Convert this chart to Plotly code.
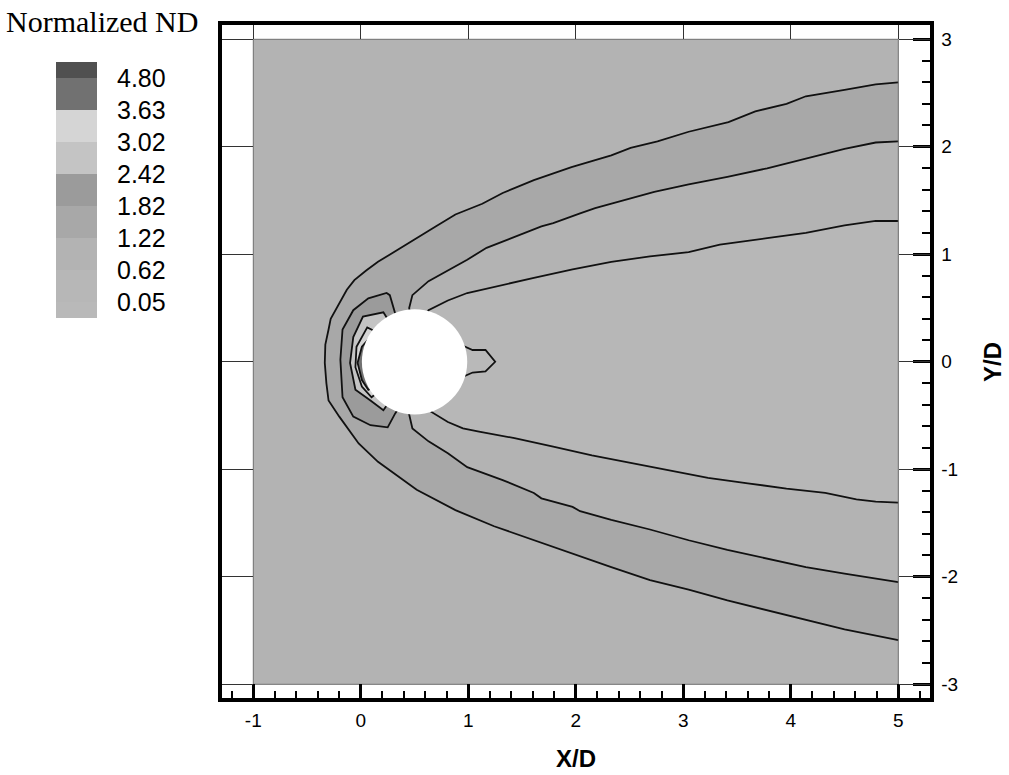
import plotly.graph_objects as go

# ---------------- data ----------------
domain_x = [-1.0, 5.0]
domain_y = [-3.0, 3.0]
cyl_center = (0.5, 0.0)
cyl_radius = 0.49

levels = [0.05, 0.62, 1.22, 1.82, 2.42, 3.02, 3.63, 4.80]
level_colors = ["#b9b9b9", "#b7b7b7", "#b3b3b3", "#a8a8a8", "#9b9b9b",
                "#c4c4c4", "#d5d5d5", "#717171", "#505050"]

x_ticks = [-1, 0, 1, 2, 3, 4, 5]
y_ticks = [-3, -2, -1, 0, 1, 2, 3]

# outer shock contour (top right -> nose -> bottom right)
c1_x = [5.0, 4.79, 4.50, 4.14, 3.96, 3.67, 3.42, 3.05, 2.76, 2.51, 2.33, 1.96, 1.61, 1.32,
        1.13, 0.88, 0.70, 0.52, 0.34, 0.16, 0.05, -0.06, -0.13, -0.20, -0.28, -0.30, -0.33,
        -0.335, -0.32, -0.30, -0.20, -0.02, 0.16, 0.52, 0.88, 1.24, 1.61, 1.97, 2.33, 2.69,
        3.05, 3.41, 3.78, 4.14, 4.50, 5.0]
c1_y = [2.60, 2.58, 2.53, 2.47, 2.40, 2.33, 2.23, 2.14, 2.05, 1.99, 1.92, 1.81, 1.69, 1.57,
        1.47, 1.37, 1.26, 1.15, 1.04, 0.93, 0.85, 0.76, 0.67, 0.54, 0.40, 0.30, 0.16,
        -0.01, -0.20, -0.36, -0.51, -0.76, -0.93, -1.19, -1.38, -1.53, -1.66, -1.78, -1.91,
        -2.03, -2.12, -2.22, -2.31, -2.40, -2.49, -2.59]

# second contour, upper branch (right edge -> cylinder) and lower branch (cylinder -> right edge)
c2_top_x = [5.0, 4.79, 4.50, 4.14, 3.78, 3.41, 3.05, 2.73, 2.51, 2.18, 2.04, 1.79, 1.68, 1.43,
            1.17, 0.99, 0.81, 0.63, 0.48, 0.45, 0.47]
c2_top_y = [2.05, 2.04, 1.98, 1.89, 1.80, 1.72, 1.65, 1.58, 1.52, 1.43, 1.38, 1.29, 1.26, 1.16,
            1.06, 0.95, 0.85, 0.75, 0.62, 0.50, 0.38]
c2_bot_x = [0.47, 0.45, 0.48, 0.63, 0.81, 0.99, 1.32, 1.61, 1.68, 1.97, 2.04, 2.33, 2.69, 3.05,
            3.41, 3.78, 4.14, 4.50, 5.0]
c2_bot_y = [-0.38, -0.49, -0.62, -0.74, -0.85, -0.98, -1.10, -1.22, -1.27, -1.35, -1.39, -1.47,
            -1.56, -1.66, -1.75, -1.83, -1.91, -1.97, -2.05]

# wake contour
c3_top_x = [5.0, 4.79, 4.50, 4.14, 3.78, 3.34, 3.05, 2.69, 2.33, 1.97, 1.61, 1.24, 0.99, 0.81,
            0.63, 0.58]
c3_top_y = [1.31, 1.31, 1.27, 1.20, 1.15, 1.09, 1.02, 0.98, 0.93, 0.86, 0.78, 0.70, 0.64, 0.57,
            0.48, 0.38]
c3_bot_x = [0.58, 0.63, 0.81, 0.95, 1.10, 1.43, 1.79, 2.15, 2.51, 2.87, 3.23, 3.60, 3.96, 4.32,
            4.61, 4.79, 5.0]
c3_bot_y = [-0.36, -0.45, -0.56, -0.62, -0.65, -0.71, -0.79, -0.87, -0.94, -1.01, -1.08, -1.13,
            -1.18, -1.22, -1.28, -1.30, -1.31]

# stagnation region contours (front of cylinder)
c4_x = [0.40, 0.32, 0.27, 0.24, 0.07, -0.07, -0.17, -0.19, -0.17, -0.07, 0.09, 0.25, 0.32, 0.40]
c4_y = [0.36, 0.45, 0.62, 0.64, 0.59, 0.48, 0.30, 0.02, -0.33, -0.51, -0.59, -0.61, -0.48, -0.36]
c5_x = [0.28, 0.21, 0.02, -0.07, -0.10, -0.05, 0.09, 0.21, 0.28]
c5_y = [0.35, 0.46, 0.42, 0.23, -0.01, -0.26, -0.36, -0.45, -0.35]
c6_x = [0.20, 0.06, -0.04, -0.05, 0.01, 0.10, 0.20]
c6_y = [0.25, 0.32, 0.14, -0.05, -0.23, -0.33, -0.25]
c7_x = [0.20, 0.09, 0.01, -0.03, 0.01, 0.07, 0.20]
c7_y = [0.20, 0.23, 0.14, -0.01, -0.17, -0.26, -0.20]

# small wake-tip contour behind cylinder
tip_x = [0.90, 0.95, 1.04, 1.16, 1.25, 1.16, 1.04, 0.95, 0.90]
tip_y = [0.12, 0.15, 0.11, 0.11, 0.00, -0.09, -0.10, -0.14, -0.12]

# ---------------- figure ----------------
W, H = 1009, 775
fig = go.Figure()

def px_x(p):
    return p / W

def px_y(p):
    return 1 - p / H

rect_x = [domain_x[0], domain_x[1], domain_x[1], domain_x[0], domain_x[0]]
rect_y = [domain_y[0], domain_y[0], domain_y[1], domain_y[1], domain_y[0]]

def fill(x, y, color):
    fig.add_trace(go.Scatter(x=x, y=y, mode="lines", fill="toself", fillcolor=color,
                             line=dict(width=0), hoverinfo="skip", showlegend=False))

def line(x, y):
    fig.add_trace(go.Scatter(x=x, y=y, mode="lines", line=dict(color="#111111", width=1.8),
                             hoverinfo="skip", showlegend=False))

fill(rect_x, rect_y, level_colors[2])
fill(c1_x, c1_y, level_colors[3])
fill(c2_top_x + c2_bot_x, c2_top_y + c2_bot_y, level_colors[2])
fill(c3_top_x + c3_bot_x, c3_top_y + c3_bot_y, level_colors[1])
fill(c4_x, c4_y, level_colors[4])
fill(c5_x, c5_y, level_colors[5])
fill(c6_x, c6_y, level_colors[6])
fill(c7_x, c7_y, level_colors[7])
fill(tip_x, tip_y, level_colors[0])

for cx, cy in [(c1_x, c1_y), (c2_top_x, c2_top_y), (c2_bot_x, c2_bot_y),
               (c3_top_x, c3_top_y), (c3_bot_x, c3_bot_y), (c4_x, c4_y),
               (c5_x, c5_y), (c6_x, c6_y), (c7_x, c7_y), (tip_x, tip_y)]:
    line(cx, cy)

# domain border
fig.add_trace(go.Scatter(x=rect_x, y=rect_y, mode="lines",
                         line=dict(color="#6e6e6e", width=1), hoverinfo="skip", showlegend=False))

# cylinder (blanked region)
fig.add_shape(type="circle", xref="x", yref="y",
              x0=cyl_center[0] - cyl_radius, x1=cyl_center[0] + cyl_radius,
              y0=cyl_center[1] - cyl_radius, y1=cyl_center[1] + cyl_radius,
              fillcolor="white", line=dict(width=0), layer="above")

# dummy traces for overlay tick axes
fig.add_trace(go.Scatter(x=[None], y=[None], xaxis="x2", yaxis="y2", showlegend=False))
fig.add_trace(go.Scatter(x=[None], y=[None], xaxis="x", yaxis="y4", showlegend=False))

# legend (level blocks)
n = len(levels)
bases = [-0.5] + list(range(n))
heights = [0.5] + [1] * (n - 1) + [0.5]
fig.add_trace(go.Bar(x=[0] * (n + 1), y=heights, base=bases, width=1,
                     marker=dict(color=level_colors, line=dict(width=0)),
                     xaxis="x3", yaxis="y3", showlegend=False, hoverinfo="skip"))

xr = [(222 - 360.8) / 107.5, (929.5 - 360.8) / 107.5]
yr = [(361.8 - 698) / 107.5, (361.8 - 25) / 107.5]
xdom = [px_x(222), px_x(929.5)]
ydom = [px_y(698), px_y(25)]

tickfont = dict(family="Liberation Sans, Arial, sans-serif", size=19, color="black")

fig.update_layout(
    width=W, height=H, autosize=False,
    margin=dict(l=0, r=0, t=0, b=0),
    paper_bgcolor="white", plot_bgcolor="white",
    barmode="overlay",
    xaxis=dict(domain=xdom, range=xr, anchor="y", side="bottom",
               tickmode="array", tickvals=x_ticks, ticktext=[str(v) for v in x_ticks],
               ticks="inside", ticklen=14, tickwidth=3, tickcolor="black",
               minor=dict(ticks="inside", ticklen=7, tickwidth=1.5, tickcolor="black",
                          dtick=0.2, tick0=0),
               showline=True, linewidth=4, linecolor="black", mirror=True,
               showgrid=False, zeroline=False, tickfont=tickfont, ticklabelstandoff=2),
    xaxis2=dict(overlaying="x", anchor="y", side="top", range=xr,
                tickmode="array", tickvals=x_ticks, ticks="inside", ticklen=14,
                tickwidth=1, tickcolor="#333333", showticklabels=False,
                showline=False, showgrid=False, zeroline=False),
    yaxis=dict(domain=ydom, range=yr, anchor="x", side="right",
               tickmode="array", tickvals=y_ticks, ticktext=[str(v) for v in y_ticks],
               ticks="inside", ticklen=17, tickwidth=3, tickcolor="black",
               minor=dict(ticks="inside", ticklen=8, tickwidth=1.5, tickcolor="black",
                          dtick=0.2, tick0=0),
               showline=True, linewidth=4, linecolor="black", mirror=True,
               showgrid=False, zeroline=False, tickfont=tickfont, ticklabelstandoff=4),
    yaxis2=dict(overlaying="y", anchor="x", side="left", range=yr,
                tickmode="array", tickvals=y_ticks, ticks="inside", ticklen=31,
                tickwidth=1, tickcolor="#333333", showticklabels=False,
                showline=False, showgrid=False, zeroline=False),
    yaxis4=dict(overlaying="y", anchor="x", side="right", range=yr,
                tickmode="array", tickvals=y_ticks, ticks="inside", ticklen=31,
                tickwidth=1, tickcolor="#333333", showticklabels=False,
                showline=False, showgrid=False, zeroline=False),
    xaxis3=dict(domain=[px_x(56), px_x(97)], range=[-0.5, 0.5], anchor="y3",
                visible=False, fixedrange=True),
    yaxis3=dict(domain=[px_y(318), px_y(62)], range=[-0.5, n - 0.5], anchor="x3",
                side="right", tickmode="array", tickvals=list(range(n)),
                ticktext=[f"{v:.2f}" for v in levels], ticks="outside", ticklen=14,
                tickcolor="rgba(0,0,0,0)", showline=False, showgrid=False, zeroline=False,
                tickfont=dict(family="Liberation Sans, Arial, sans-serif", size=25,
                              color="black")),
    annotations=[
        dict(text="Normalized ND", x=px_x(4), y=px_y(21), xref="paper", yref="paper",
             xanchor="left", yanchor="middle", showarrow=False,
             font=dict(family="Liberation Serif, Times New Roman, serif", size=30,
                       color="black")),
        dict(text="<b>X/D</b>", x=px_x(576), y=px_y(758), xref="paper", yref="paper",
             xanchor="center", yanchor="middle", showarrow=False,
             font=dict(family="Liberation Sans, Arial, sans-serif", size=24, color="black")),
        dict(text="<b>Y/D</b>", x=px_x(993), y=px_y(362), xref="paper", yref="paper",
             xanchor="center", yanchor="middle", showarrow=False, textangle=-90,
             font=dict(family="Liberation Sans, Arial, sans-serif", size=24, color="black")),
    ],
)

fig.write_html("out.html")
